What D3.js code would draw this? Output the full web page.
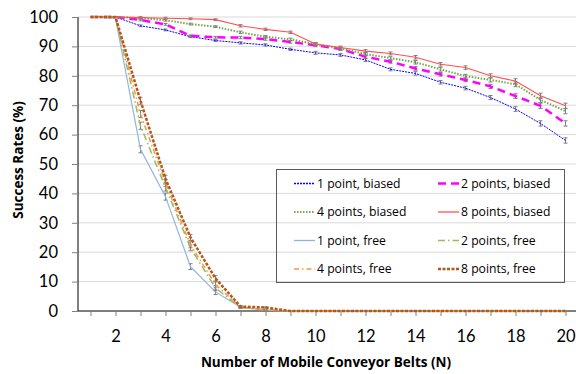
<!DOCTYPE html>
<html><head><meta charset="utf-8">
<script src="https://cdn.jsdelivr.net/npm/d3@7"></script>
<style>body{margin:0;background:#fff}svg{display:block}text{font-family:Lato,"Open Sans",sans-serif}</style>
</head><body><svg id="c" width="576" height="374"></svg>
<script>
const N = d3.range(1, 21);
const xTickLabels = [2,4,6,8,10,12,14,16,18,20];
const yTicks = [0,10,20,30,40,50,60,70,80,90,100];
const seriesNames = ["1 point, biased","2 points, biased","4 points, biased","8 points, biased","1 point, free","2 points, free","4 points, free","8 points, free"];
const b1 = [100,100,97.0,95.6,93.3,92.0,91.2,90.5,89.0,87.8,87.1,85.4,82.2,80.8,77.8,75.8,72.6,68.7,63.8,58.0];
const b2 = [100,100,99.0,97.5,93.6,93.1,93.0,92.5,91.5,90.4,89.1,86.5,84.8,82.5,80.5,78.6,76.4,73.1,69.8,63.8];
const b4 = [100,100,99.6,98.9,97.6,96.7,94.8,93.3,92.4,90.8,89.3,87.4,86.0,84.6,82.2,79.9,78.6,77.1,71.8,68.0];
const b8 = [100,100,99.8,99.6,99.4,99.1,97.0,95.8,94.8,90.8,89.6,88.4,87.6,86.3,83.9,82.8,80.0,78.2,73.2,69.8];
const f1 = [100,99.5,55.0,38.9,15.1,6.5,1.3,0.3,0,0,0,0,0,0,0,0,0,0,0,0];
const f2 = [100,100,63.0,42.0,21.5,7.8,1.2,0.3,0,0,0,0,0,0,0,0,0,0,0,0];
const f4 = [100,100,67.0,43.5,22.5,9.0,1.3,0.4,0,0,0,0,0,0,0,0,0,0,0,0];
const f8 = [100,100,71.5,45.0,25.0,11.1,1.5,1.2,0,0,0,0,0,0,0,0,0,0,0,0];
const errBiased = [0,0,0.3,0.3,0.3,0.3,0.4,0.4,0.4,0.5,0.5,0.5,0.5,0.6,0.6,0.6,0.7,0.8,0.9,0.9];
const errFree = [0,0,1.2,1.2,1.0,0.9,0.3,0.2,0,0,0,0,0,0,0,0,0,0,0,0];

const seriesData = [b1,b2,b4,b8,f1,f2,f4,f8];
const seriesErr = [errBiased,errBiased,errBiased,errBiased,errFree,errFree,errFree,errFree];
const styles = [
  {c:"#0000ff", w:1, d:"2,1"},
  {c:"#ff00ff", w:2.5, d:"8,5"},
  {c:"#72a84a", w:2, d:"1.5,1.5"},
  {c:"#ff5050", w:1.1, d:null},
  {c:"#8eb4e3", w:1.2, d:null},
  {c:"#9bbb59", w:1.5, d:"7,3,1.5,3"},
  {c:"#f79646", w:1.5, d:"5,3,1.5,3"},
  {c:"#b5561b", w:2.5, d:"3,1.5"}
];

const svg = d3.select("#c");
const x = d3.scaleLinear().domain([0.5, 20.5]).range([78, 578]);
const y = d3.scaleLinear().domain([0, 100]).range([311, 17]);

// gridlines
svg.append("g").selectAll("line").data(yTicks.filter(v=>v>0)).join("line")
  .attr("x1", 78).attr("x2", 576).attr("y1", d=>y(d)).attr("y2", d=>y(d))
  .attr("stroke", "#d9d9d9").attr("stroke-width", 1);

// y axis
const ya = svg.append("g").attr("transform","translate(78,0)")
  .call(d3.axisLeft(y).tickValues(yTicks).tickSize(6).tickPadding(14));
ya.select(".domain").attr("stroke","#000").attr("d","M0,17V311");
ya.selectAll(".tick line").attr("stroke","#808080");
ya.selectAll("text").attr("font-size",16.5).attr("fill","#000").style("font-family","Lato");

// x axis
const xa = svg.append("g").attr("transform","translate(0,311)")
  .call(d3.axisBottom(x).tickValues(N).tickSize(5).tickPadding(14)
    .tickFormat(d => xTickLabels.includes(d) ? d : ""));
xa.select(".domain").attr("stroke","#000").attr("d","M78,0H576");
xa.selectAll(".tick line").attr("stroke","#808080");
xa.selectAll("text").attr("font-size",16.5).attr("fill","#000").style("font-family","Lato");

// titles
svg.append("text").attr("x",326).attr("y",367).attr("text-anchor","middle")
  .style("font-family","'Open Sans'").attr("font-size",13.5).attr("font-weight","bold")
  .text("Number of Mobile Conveyor Belts (N)");
svg.append("text").attr("transform","translate(23,160) rotate(-90)").attr("text-anchor","middle")
  .style("font-family","'Open Sans'").attr("font-size",13.5).attr("font-weight","bold")
  .text("Success Rates (%)");

// lines
const line = d3.line().x((d,i)=>x(N[i])).y(d=>y(d));
seriesData.forEach((s, k) => {
  const st = styles[k];
  const g = svg.append("g");
  const eb = g.append("g").attr("stroke","#7f7f7f").attr("stroke-width",1);
  s.forEach((v,i) => {
    const e = seriesErr[k][i];
    if (e <= 0) return;
    const cx = x(N[i]);
    eb.append("line").attr("x1",cx).attr("x2",cx).attr("y1",y(v-e)).attr("y2",y(v+e));
    eb.append("line").attr("x1",cx-2).attr("x2",cx+2).attr("y1",y(v-e)).attr("y2",y(v-e));
    eb.append("line").attr("x1",cx-2).attr("x2",cx+2).attr("y1",y(v+e)).attr("y2",y(v+e));
  });
  g.append("path").datum(s).attr("d", line).attr("fill","none")
    .attr("stroke", st.c).attr("stroke-width", st.w)
    .attr("stroke-dasharray", st.d);
});

// legend
const lg = svg.append("g");
lg.append("rect").attr("x",276.5).attr("y",169.5).attr("width",288).attr("height",113)
  .attr("fill","none").attr("stroke","#595959").attr("stroke-width",1);
seriesNames.forEach((name,k) => {
  const col = k % 2, row = Math.floor(k/2);
  const lx = col ? 438 : 294;
  const ly = 183.5 + row*28.5;
  const st = styles[k];
  lg.append("line").attr("x1",lx).attr("x2",lx+21).attr("y1",ly).attr("y2",ly)
    .attr("stroke",st.c).attr("stroke-width",Math.max(st.w,1.3)).attr("stroke-dasharray",st.d);
  lg.append("text").attr("x",lx+23).attr("y",ly).attr("dy","0.35em")
    .style("font-family","'Open Sans'").attr("font-size",12.2).attr("fill","#000").text(name);
});
</script></body></html>
